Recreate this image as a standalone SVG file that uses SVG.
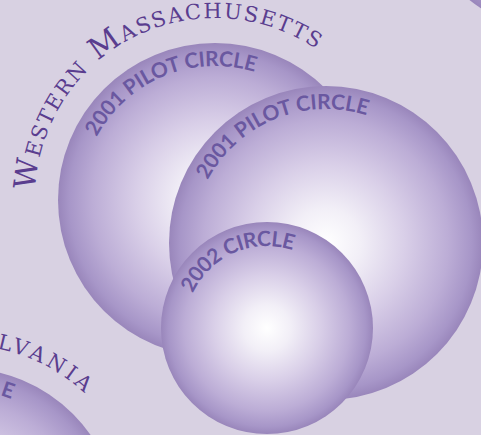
<svg xmlns="http://www.w3.org/2000/svg" xmlns:xlink="http://www.w3.org/1999/xlink" width="481" height="435" viewBox="0 0 481 435">
  <defs>
    <radialGradient id="sphere" cx="0.5" cy="0.5" r="0.5">
      <stop offset="0" stop-color="#ffffff"/>
      <stop offset="0.22" stop-color="#f2eff7"/>
      <stop offset="0.5" stop-color="#d9cfe8"/>
      <stop offset="0.78" stop-color="#bcadd6"/>
      <stop offset="0.93" stop-color="#a796c8"/>
      <stop offset="1" stop-color="#9986bb"/>
    </radialGradient>
    <path id="pWest" d="M 35.17 190.15 A 180 180 0 0 1 352.89 82.30"/>
    <path id="pPenn" d="M -69.3 347.7 A 180 180 0 0 1 87.0 395.5"/>
    <path id="pC1" d="M 96.7 137.1 A 134 134 0 0 1 301.1 97.4"/>
    <path id="pC2" d="M 207.7 180.1 A 134 134 0 0 1 412.1 140.4"/>
    <path id="pC3" d="M 192.7 293.3 A 82 82 0 0 1 329.8 275.3"/>
  </defs>
  <style>
    .sphere { fill: url(#sphere); }
    .region { font-family: "DejaVu Serif", "Liberation Serif", serif; font-variant: small-caps; font-size: 30px; fill: #5a3d8f; }
    .label { font-family: "Lato", "Open Sans", sans-serif; font-weight: 700; font-size: 21px; fill: #6a58a0; }
  </style>
  <rect width="481" height="435" fill="#d8d1e2"/>

  <g id="corner-circle">
    <circle class="sphere" cx="567" cy="-123" r="157"/>
  </g>

  <g id="western-massachusetts">
    <text class="region"><textPath xlink:href="#pWest" href="#pWest" textLength="382" lengthAdjust="spacing">Western Massachusetts</textPath></text>
  </g>

  <g id="pennsylvania">
    <text class="region" font-size="32" letter-spacing="3.5" text-anchor="end"><textPath xlink:href="#pPenn" href="#pPenn" startOffset="100%">ylvania</textPath></text>
  </g>

  <g id="lower-left-circle">
    <circle class="sphere" cx="-38" cy="525" r="157"/>
    <text class="label" transform="translate(0 395) rotate(19)">E</text>
  </g>

  <g id="pilot-circle-1">
    <circle class="sphere" cx="215" cy="200" r="157"/>
    <text class="label"><textPath xlink:href="#pC1" href="#pC1" textLength="185" lengthAdjust="spacing">2001 PILOT CIRCLE</textPath></text>
  </g>

  <g id="pilot-circle-2">
    <circle class="sphere" cx="326" cy="243" r="157"/>
    <text class="label"><textPath xlink:href="#pC2" href="#pC2" textLength="186" lengthAdjust="spacing">2001 PILOT CIRCLE</textPath></text>
  </g>

  <g id="circle-2002">
    <circle class="sphere" cx="267" cy="328" r="106"/>
    <text class="label"><textPath xlink:href="#pC3" href="#pC3" textLength="119" lengthAdjust="spacing">2002 CIRCLE</textPath></text>
  </g>
</svg>
